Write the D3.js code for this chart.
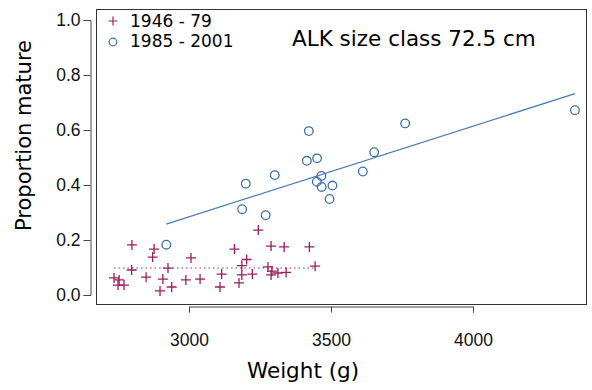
<!DOCTYPE html>
<html>
<head>
<meta charset="utf-8">
<script src="https://cdn.jsdelivr.net/npm/d3@7"></script>
<style>
  body { margin: 0; background: #fff; }
  svg { display: block; }
</style>
</head>
<body>
<div id="chart"></div>
<script>

// size of the page
const width = 592;
const height = 390;

// 1946 - 79 points (weight g, proportion mature)
const oldWeight = [2736, 2754, 2750, 2771, 2799, 2798, 2849, 2877, 2872, 2926,
  2908, 2898, 2939, 2989, 3007, 3039, 3115, 3109, 3160, 3203,
  3186, 3186, 3176, 3223, 3244, 3289, 3335, 3424, 3444, 3278,
  3292, 3289, 3313, 3342];
const oldProp = [0.062, 0.055, 0.036, 0.036, 0.182, 0.091, 0.065, 0.167, 0.138, 0.098,
  0.058, 0.015, 0.029, 0.055, 0.135, 0.058, 0.076, 0.029, 0.167, 0.129,
  0.107, 0.073, 0.044, 0.076, 0.236, 0.178, 0.175, 0.175, 0.105, 0.102,
  0.087, 0.073, 0.080, 0.082];

// 1985 - 2001 points
const newWeight = [3422, 3415, 3451, 3302, 3200, 3466, 3450, 3467, 3505, 3612,
  3652, 3495, 3187, 3270, 3761, 4359, 2920];
const newProp = [0.596, 0.488, 0.497, 0.436, 0.405, 0.433, 0.412, 0.393, 0.398, 0.449,
  0.519, 0.349, 0.312, 0.290, 0.624, 0.672, 0.183];

// fitted lines
const meanLineW = [2736, 3444];
const meanLineP = [0.098, 0.098];
const fitLineW = [2920, 4359];
const fitLineP = [0.258, 0.732];

const xTicks = [3000, 3500, 4000];
const yTicks = [0, 0.2, 0.4, 0.6, 0.8, 1.0];

const groups = ["1946 - 79", "1985 - 2001"];
const plusColor = "#9c1d60";
const circleColor = "#3d70a8";

const svg = d3.select("#chart")
  .append("svg")
  .attr("width", width)
  .attr("height", height);

// scales, R style: axis lines only span the ticks
const x = d3.scaleLinear().domain([3000, 4000]).range([189, 473]);
const y = d3.scaleLinear().domain([0, 1]).range([295, 20]);

// plot box
svg.append("rect")
  .attr("x", 96.5).attr("y", 9.5)
  .attr("width", 490).attr("height", 295)
  .attr("fill", "none")
  .attr("stroke", "#333")
  .attr("stroke-width", 1);

// y axis
const yAxis = svg.append("g")
  .attr("transform", "translate(90.5,0)")
  .call(d3.axisLeft(y).tickValues(yTicks).tickFormat(d3.format(".1f"))
    .tickSizeOuter(0).tickSize(7).tickPadding(3));

// x axis
const xAxis = svg.append("g")
  .attr("transform", "translate(0,306.5)")
  .call(d3.axisBottom(x).tickValues(xTicks).tickFormat(d3.format("d"))
    .tickSizeOuter(0).tickSize(6).tickPadding(21));

[yAxis, xAxis].forEach(g => {
  g.selectAll("path, line").attr("stroke", "#444");
  g.selectAll("text")
    .attr("fill", "#111")
    .attr("font-family", "Liberation Sans, Arial, sans-serif")
    .attr("font-size", "17.5px");
});

// axis titles
svg.append("text")
  .attr("transform", "translate(31,135.5) rotate(-90)")
  .attr("text-anchor", "middle")
  .attr("font-family", "DejaVu Sans, Verdana, sans-serif")
  .attr("font-size", "21px")
  .text("Proportion mature");

svg.append("text")
  .attr("x", 303).attr("y", 378)
  .attr("text-anchor", "middle")
  .attr("font-family", "DejaVu Sans, Verdana, sans-serif")
  .attr("font-size", "21.5px")
  .text("Weight (g)");

svg.append("text")
  .attr("x", 292).attr("y", 46)
  .attr("font-family", "DejaVu Sans, Verdana, sans-serif")
  .attr("font-size", "21.5px")
  .text("ALK size class 72.5 cm");

// lines
const line = d3.line().x(d => x(d[0])).y(d => y(d[1]));

svg.append("path")
  .datum(d3.zip(meanLineW, meanLineP))
  .attr("d", line)
  .attr("fill", "none")
  .attr("stroke", "#c06f95")
  .attr("stroke-width", 1.5)
  .attr("stroke-dasharray", "1.5,3");

svg.append("path")
  .datum(d3.zip(fitLineW, fitLineP))
  .attr("d", line)
  .attr("fill", "none")
  .attr("stroke", "#4a7cb3")
  .attr("stroke-width", 1.3);

// points
const plusPath = "M-5,0H5M0,-5V5";

svg.selectAll(".plus")
  .data(d3.zip(oldWeight, oldProp))
  .enter()
  .append("path")
    .attr("class", "plus")
    .attr("transform", d => `translate(${x(d[0])},${y(d[1])})`)
    .attr("d", plusPath)
    .attr("fill", "none")
    .attr("stroke", plusColor)
    .attr("stroke-width", 1.3);

svg.selectAll(".circ")
  .data(d3.zip(newWeight, newProp))
  .enter()
  .append("circle")
    .attr("class", "circ")
    .attr("cx", d => x(d[0]))
    .attr("cy", d => y(d[1]))
    .attr("r", 4.3)
    .attr("fill", "none")
    .attr("stroke", circleColor)
    .attr("stroke-width", 1.3);

// legend
const legend = svg.append("g");
groups.forEach((g, i) => {
  const ly = 21 + i * 21;
  if (i === 0) {
    legend.append("path")
      .attr("transform", `translate(113,${ly})`)
      .attr("d", "M-4.5,0H4.5M0,-4.5V4.5")
      .attr("stroke", plusColor)
      .attr("stroke-width", 1.2);
  } else {
    legend.append("circle")
      .attr("cx", 113).attr("cy", ly)
      .attr("r", 3.8)
      .attr("fill", "none")
      .attr("stroke", circleColor)
      .attr("stroke-width", 1.2);
  }
  legend.append("text")
    .attr("x", 130).attr("y", 27 + i * 20)
    .attr("font-family", "DejaVu Sans, Verdana, sans-serif")
    .attr("font-size", "17px")
    .text(g);
});

</script>
</body>
</html>
